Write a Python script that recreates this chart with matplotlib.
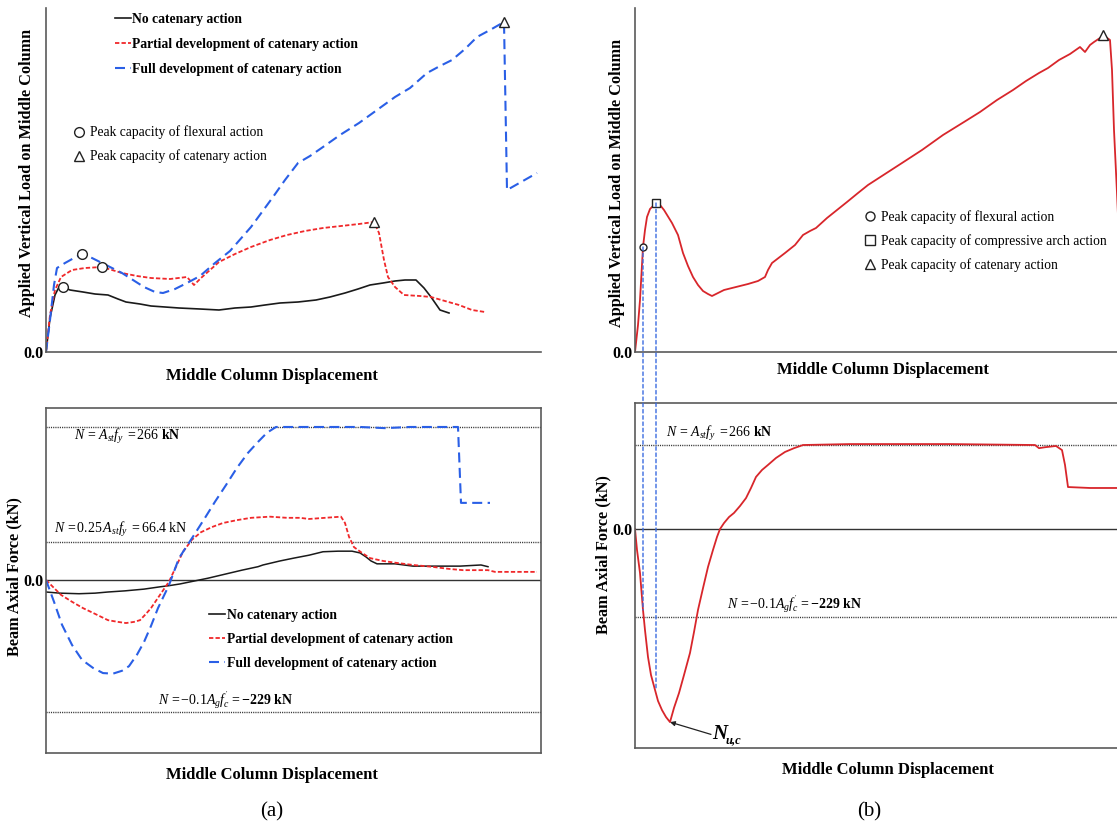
import matplotlib
matplotlib.use('Agg')
import matplotlib.pyplot as plt
from matplotlib.lines import Line2D
from matplotlib.patches import ConnectionPatch

plt.rcParams['font.family'] = ['Liberation Serif', 'DejaVu Serif']
plt.rcParams['mathtext.fontset'] = 'custom'
plt.rcParams['mathtext.rm'] = 'Liberation Serif'
plt.rcParams['mathtext.it'] = 'Liberation Serif:italic'
plt.rcParams['mathtext.bf'] = 'Liberation Serif:bold'

# ---------------- data (schematic units) ----------------
# Panel (a) top: applied vertical load vs displacement
a_none_x = [0, 4, 9, 13, 17, 24, 37, 49, 62, 72, 80, 94, 105, 119, 133, 154, 173, 189, 205, 219,
            234, 252, 270, 284, 299, 312, 324, 337, 349, 359, 370, 378, 385, 394, 403]
a_none_y = [0, 34, 57, 65, 65, 62, 60, 58, 57, 53, 50, 48, 46, 45, 44, 43, 42, 44, 45, 47,
            49, 50, 52, 55, 59, 63, 67, 69, 71, 72, 72, 64, 55, 42, 39]
a_part_x = [0, 4, 9, 15, 26, 39, 56, 66, 76, 91, 105, 124, 141, 148, 155, 164, 173, 189, 205, 224,
            241, 259, 277, 295, 313, 328, 333, 338, 342, 349, 358, 374, 385, 399, 413, 426, 439]
a_part_y = [0, 37, 62, 75, 82, 84, 85, 82, 79, 76, 74, 73, 75, 67, 74, 82, 90, 98, 105, 112,
            117, 121, 124, 126, 128, 130, 119, 92, 75, 65, 57, 56, 55, 51, 47, 42, 40]
a_full_x = [0, 4, 8, 11, 19, 28, 36, 46, 56, 66, 76, 87, 98, 109, 117, 129, 141, 154, 169, 184,
            205, 216, 227, 239, 252, 264, 277, 294, 313, 331, 349, 364, 381, 394, 406, 419, 431,
            444, 458, 461, 491]
a_full_y = [0, 32, 67, 84, 89, 94, 98, 94, 89, 84, 79, 72, 65, 60, 59, 63, 69, 76, 89, 101,
            125, 140, 155, 172, 189, 196, 205, 217, 229, 242, 255, 264, 279, 286, 292, 303, 315,
            322, 330, 162, 179]
a_flex_peak_x = [17, 56, 36]
a_flex_peak_y = [65, 85, 98]
a_cat_peak_x = [328, 458]
a_cat_peak_y = [130, 330]

# Panel (a) bottom: beam axial force (kN)
n_none_x = [0, 14, 33, 49, 62, 79, 98, 114, 123, 134, 148, 162, 179, 196, 212, 217, 234, 248, 263,
            277, 292, 306, 314, 320, 325, 331, 349, 367, 394, 414, 435, 442]
n_none_y = [-21, -23, -24, -23, -21, -19, -16, -12, -10, -7, -2, 3, 10, 17, 23, 26, 33, 38, 43,
            49, 50, 50, 47, 40, 33, 28, 28, 24, 24, 24, 26, 23]
n_part_x = [0, 8, 15, 26, 37, 49, 62, 72, 80, 88, 94, 100, 105, 114, 123, 130, 137, 146, 155, 166,
            177, 191, 205, 224, 241, 254, 263, 279, 295, 299, 303, 308, 316, 324, 337, 349, 367,
            385, 404, 417, 442, 449, 464, 491]
n_part_y = [0, -14, -26, -38, -49, -59, -70, -73, -75, -73, -70, -59, -49, -26, -3, 23, 49, 70, 83,
            92, 99, 104, 108, 110, 108, 108, 106, 108, 110, 99, 75, 57, 47, 38, 33, 30, 26, 23, 19,
            17, 17, 14, 14, 14]
n_full_x = [0, 8, 16, 26, 36, 47, 57, 67, 76, 83, 91, 98, 105, 112, 123, 133, 148, 159, 169, 180,
            191, 202, 212, 221, 230, 254, 274, 294, 314, 339, 364, 412, 415, 444]
n_full_y = [0, -38, -78, -113, -139, -153, -162, -163, -158, -150, -130, -108, -80, -49, -9, 38,
            78, 108, 136, 165, 195, 221, 240, 256, 266, 266, 266, 266, 266, 264, 266, 266, 134, 134]
a_ref_levels = [266, 66.4, -229]

# Panel (b) top: applied vertical load vs displacement
b_load_x = [0, 3, 5, 8, 10, 12, 15, 21, 25, 29, 37, 43, 48, 53, 58, 63, 68, 73, 77, 83, 89, 101,
            113, 123, 130, 133, 137, 150, 160, 168, 175, 181, 192, 202, 212, 223, 233, 250, 267,
            287, 308, 329, 345, 362, 378, 391, 404, 413, 424, 435, 445, 450, 455, 459, 465, 468,
            475, 477, 479, 482, 485]
b_load_y = [0, 27, 52, 105, 122, 135, 143, 149, 147, 142, 129, 117, 99, 86, 75, 67, 61, 58, 56,
            59, 62, 65, 68, 71, 75, 82, 89, 99, 107, 117, 121, 124, 134, 142, 150, 159, 167, 178,
            189, 202, 217, 230, 240, 252, 262, 271, 279, 284, 292, 298, 305, 300, 307, 310, 314,
            317, 312, 282, 222, 159, 92]
b_flex_peak = (8, 105)
b_arch_peak = (21, 149)
b_cat_peak = (468, 317)

# Panel (b) bottom: beam axial force (schematic kN)
b_axial_x = [0, 2, 5, 8, 10, 13, 16, 20, 23, 27, 31, 35, 39, 44, 49, 55, 59, 63, 68, 73, 78, 82,
             85, 89, 94, 99, 105, 111, 116, 121, 127, 133, 141, 150, 159, 168, 215, 315, 400, 404,
             410, 421, 427, 430, 433, 455, 495]
b_axial_y = [0, -66, -139, -256, -320, -405, -462, -509, -544, -573, -595, -611, -566, -519, -462,
             -392, -326, -256, -187, -120, -66, -25, 0, 19, 38, 51, 73, 98, 130, 165, 187, 203,
             225, 244, 256, 266, 269, 269, 266, 256, 259, 263, 250, 203, 133, 130, 130]
b_ref_levels = [266, -278]
b_nuc = (35, -611)

# ---------------- styling ----------------
W, H = 1117, 826
fig = plt.figure(figsize=(W / 100, H / 100), dpi=100)

def px_axes(l, t, r, b):
    return fig.add_axes([l / W, 1 - b / H, (r - l) / W, (b - t) / H])

SPINE = '#5a5a5a'
RED_A = '#f0282a'
BLUE = '#2a5fe6'
RED_B = '#d8262b'
XLBL = dict(fontsize=12, fontweight='bold')
YLBL = dict(fontsize=11.7, fontweight='bold')

def base(ax, box):
    for s in ax.spines.values():
        s.set_color(SPINE)
        s.set_linewidth(1.2)
    if not box:
        ax.spines['top'].set_visible(False)
        ax.spines['right'].set_visible(False)
    ax.set_xticks([])
    ax.set_yticks([0])
    ax.set_yticklabels(['0.0'], fontsize=11.5, fontweight='bold')
    ax.tick_params(axis='y', length=0, pad=2)

mk = dict(markerfacecolor='white', markeredgecolor='#222222', markeredgewidth=1.0,
          linestyle='none', clip_on=False, zorder=5)

# ---- (a) top ----
axAt = px_axes(46, 8, 541, 352)
base(axAt, False)
axAt.set_xlim(0, 495)
axAt.set_ylim(0, 344)
axAt.plot(a_none_x, a_none_y, color='#1a1a1a', lw=1.2)
axAt.plot(a_part_x, a_part_y, color=RED_A, lw=1.3, dashes=(2.4, 1.2))
axAt.plot(a_full_x, a_full_y, color=BLUE, lw=1.5, dashes=(4.8, 2.6))
axAt.plot(a_flex_peak_x, a_flex_peak_y, marker='o', markersize=7, **mk)
axAt.plot(a_cat_peak_x, a_cat_peak_y, marker='^', markersize=7.5, **mk)
axAt.set_xlabel('Middle Column Displacement', va='center', **XLBL)
axAt.xaxis.set_label_coords(0.457, -0.07)
axAt.set_ylabel('Applied Vertical Load on Middle Column', va='center', **YLBL)
axAt.yaxis.set_label_coords(-0.038, 0.52)

line_handles = [Line2D([], [], color='#1a1a1a', lw=1.2),
                Line2D([], [], color=RED_A, lw=1.3, dashes=(2.4, 1.2)),
                Line2D([], [], color=BLUE, lw=1.5, dashes=(4.8, 2.6))]
line_labels = ['No catenary action', 'Partial development of catenary action',
               'Full development of catenary action']
legA1 = axAt.legend(line_handles, line_labels, loc='upper left', bbox_to_anchor=(0.139, 0.985),
                    frameon=False, borderpad=0, borderaxespad=0, handlelength=1.2,
                    handletextpad=0.1, labelspacing=0.88,
                    prop=dict(family='Liberation Serif', weight='bold', size=9.8))
axAt.add_artist(legA1)
mk_h = dict(markerfacecolor='white', markeredgecolor='#222222', markeredgewidth=1.0, linestyle='none')
axAt.legend([Line2D([], [], marker='o', markersize=7, **mk_h),
             Line2D([], [], marker='^', markersize=7, **mk_h)],
            ['Peak capacity of flexural action', 'Peak capacity of catenary action'],
            loc='upper left', bbox_to_anchor=(0.0566, 0.658), frameon=False, borderpad=0,
            borderaxespad=0, handlelength=0.8, handletextpad=0.4, labelspacing=0.75,
            prop=dict(family='Liberation Serif', size=9.8))

# ---- (a) bottom ----
axAb = px_axes(46, 408, 541, 753)
base(axAb, True)
axAb.set_xlim(0, 495)
axAb.set_ylim(-301, 299)
axAb.axhline(0, color='#333333', lw=1.0)
for lv in a_ref_levels:
    axAb.axhline(lv, color='#333333', lw=1.0, dashes=(0.8, 0.8))
axAb.plot(n_none_x, n_none_y, color='#1a1a1a', lw=1.1)
axAb.plot(n_part_x, n_part_y, color=RED_A, lw=1.3, dashes=(2.4, 1.2))
axAb.plot(n_full_x, n_full_y, color=BLUE, lw=1.5, dashes=(4.8, 2.6))
axAb.text(28, 250, r'$N\,=\,A_{st}f_y\;=266\ \mathbf{kN}$', fontsize=10, va='center')
axAb.text(8, 87, r'$N\,=0.25\,A_{st}f_y\;=66.4\ \mathrm{kN}$', fontsize=10, va='center')
axAb.text(112, -209, r"$N\,=-0.1A_g f_c^{\,'}\,=\mathbf{-229\ kN}$", fontsize=10, va='center')
axAb.set_xlabel('Middle Column Displacement', va='center', **XLBL)
axAb.xaxis.set_label_coords(0.457, -0.064)
axAb.set_ylabel('Beam Axial Force (kN)', va='center', **YLBL)
axAb.yaxis.set_label_coords(-0.064, 0.51)
axAb.legend(line_handles, line_labels, loc='upper left', bbox_to_anchor=(0.329, 0.418),
            frameon=False, borderpad=0, borderaxespad=0, handlelength=1.2,
            handletextpad=0.1, labelspacing=0.8,
            prop=dict(family='Liberation Serif', weight='bold', size=9.8))

# ---- (b) top ----
axBt = px_axes(635, 8, 1130, 352)
base(axBt, False)
axBt.set_xlim(0, 495)
axBt.set_ylim(0, 344)
axBt.plot(b_load_x, b_load_y, color=RED_B, lw=1.3)
axBt.plot([b_flex_peak[0]], [b_flex_peak[1]], marker='o', markersize=5, **mk)
axBt.plot([b_arch_peak[0]], [b_arch_peak[1]], marker='s', markersize=5.5, **mk)
axBt.plot([b_cat_peak[0]], [b_cat_peak[1]], marker='^', markersize=7.5, **mk)
axBt.set_xlabel('Middle Column Displacement', va='center', **XLBL)
axBt.xaxis.set_label_coords(0.501, -0.052)
axBt.set_ylabel('Applied Vertical Load on Middle Column', va='center', **YLBL)
axBt.yaxis.set_label_coords(-0.036, 0.491)
axBt.legend([Line2D([], [], marker='o', markersize=6.5, **mk_h),
             Line2D([], [], marker='s', markersize=6.5, **mk_h),
             Line2D([], [], marker='^', markersize=6.5, **mk_h)],
            ['Peak capacity of flexural action', 'Peak capacity of compressive arch action',
             'Peak capacity of catenary action'],
            loc='upper left', bbox_to_anchor=(0.4646, 0.413), frameon=False, borderpad=0,
            borderaxespad=0, handlelength=0.8, handletextpad=0.35, labelspacing=0.75,
            prop=dict(family='Liberation Serif', size=9.8))

# ---- (b) bottom ----
axBb = px_axes(635, 403, 1130, 748)
base(axBb, True)
axBb.set_xlim(0, 495)
axBb.set_ylim(-693, 399)
axBb.axhline(0, color='#333333', lw=1.0)
for lv in b_ref_levels:
    axBb.axhline(lv, color='#333333', lw=1.0, dashes=(0.8, 0.8))
axBb.plot(b_axial_x, b_axial_y, color=RED_B, lw=1.3)
axBb.text(31, 304, r'$N\,=\,A_{st}f_y\;=266\ \mathbf{kN}$', fontsize=10, va='center')
axBb.text(92, -240, r"$N\,=-0.1A_g f_c^{\,'}\,=\mathbf{-229\ kN}$", fontsize=10, va='center')
axBb.annotate('', xy=b_nuc, xytext=(76, -650),
              arrowprops=dict(arrowstyle='-|>', color='#222222', lw=0.9, mutation_scale=7,
                              shrinkA=0, shrinkB=0))
axBb.text(77, -650, 'N', fontsize=15, fontweight='bold', fontstyle='italic', va='center')
axBb.text(91, -668, 'u,c', fontsize=9, fontweight='bold', fontstyle='italic', va='center')
axBb.set_xlabel('Middle Column Displacement', va='center', **XLBL)
axBb.xaxis.set_label_coords(0.511, -0.064)
axBb.set_ylabel('Beam Axial Force (kN)', va='center', **YLBL)
axBb.yaxis.set_label_coords(-0.063, 0.562)

# blue dashed guide lines linking the peaks to the axial-force curve
b_guides = [(b_flex_peak, (8, -256)), (b_arch_peak, (21, -509))]
for (pa, pb) in b_guides:
    cp = ConnectionPatch(xyA=pa, coordsA=axBt.transData, xyB=pb, coordsB=axBb.transData,
                         color='#3a6be0', lw=1.0, linestyle=(0, (2.5, 2.0)), zorder=1)
    fig.add_artist(cp)

fig.text(272 / W, 1 - 812 / H, '(a)', fontsize=15, ha='center', va='center')
fig.text(869 / W, 1 - 812 / H, '(b)', fontsize=15, ha='center', va='center')

fig.savefig('out.png', dpi=100)
